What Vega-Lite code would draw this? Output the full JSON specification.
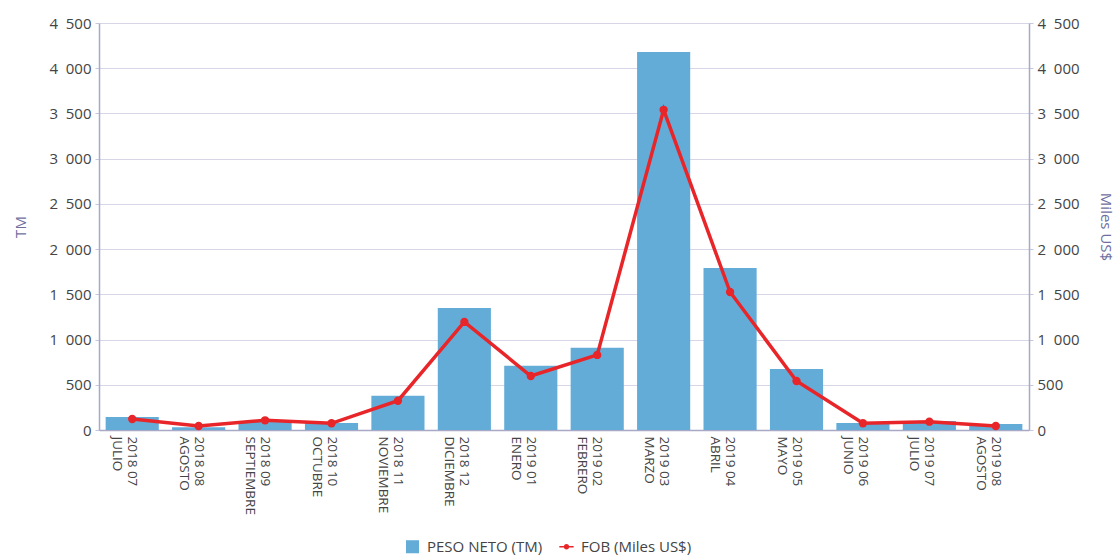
{
  "$schema": "https://vega.github.io/schema/vega-lite/v6.json",
  "width": 930,
  "height": 407,
  "autosize": {"type": "none"},
  "padding": {"left": 99, "top": 23, "right": 89, "bottom": 129},
  "background": "white",
  "config": {
    "font": "Open Sans",
    "view": {"stroke": null},
    "axis": {"labelFont": "Open Sans", "titleFont": "Open Sans"}
  },
  "data": {
    "values": [
      {"mes": "2018 07|JULIO", "serie": "PESO NETO (TM)", "valor": 144},
      {"mes": "2018 08|AGOSTO", "serie": "PESO NETO (TM)", "valor": 30},
      {"mes": "2018 09|SEPTIEMBRE", "serie": "PESO NETO (TM)", "valor": 100},
      {"mes": "2018 10|OCTUBRE", "serie": "PESO NETO (TM)", "valor": 77},
      {"mes": "2018 11|NOVIEMBRE", "serie": "PESO NETO (TM)", "valor": 380},
      {"mes": "2018 12|DICIEMBRE", "serie": "PESO NETO (TM)", "valor": 1350},
      {"mes": "2019 01|ENERO", "serie": "PESO NETO (TM)", "valor": 710},
      {"mes": "2019 02|FEBRERO", "serie": "PESO NETO (TM)", "valor": 910},
      {"mes": "2019 03|MARZO", "serie": "PESO NETO (TM)", "valor": 4180},
      {"mes": "2019 04|ABRIL", "serie": "PESO NETO (TM)", "valor": 1790},
      {"mes": "2019 05|MAYO", "serie": "PESO NETO (TM)", "valor": 675},
      {"mes": "2019 06|JUNIO", "serie": "PESO NETO (TM)", "valor": 77},
      {"mes": "2019 07|JULIO", "serie": "PESO NETO (TM)", "valor": 100},
      {"mes": "2019 08|AGOSTO", "serie": "PESO NETO (TM)", "valor": 66},
      {"mes": "2018 07|JULIO", "serie": "FOB (Miles US$)", "valor": 122},
      {"mes": "2018 08|AGOSTO", "serie": "FOB (Miles US$)", "valor": 44},
      {"mes": "2018 09|SEPTIEMBRE", "serie": "FOB (Miles US$)", "valor": 107},
      {"mes": "2018 10|OCTUBRE", "serie": "FOB (Miles US$)", "valor": 74},
      {"mes": "2018 11|NOVIEMBRE", "serie": "FOB (Miles US$)", "valor": 324},
      {"mes": "2018 12|DICIEMBRE", "serie": "FOB (Miles US$)", "valor": 1195},
      {"mes": "2019 01|ENERO", "serie": "FOB (Miles US$)", "valor": 597},
      {"mes": "2019 02|FEBRERO", "serie": "FOB (Miles US$)", "valor": 830},
      {"mes": "2019 03|MARZO", "serie": "FOB (Miles US$)", "valor": 3540},
      {"mes": "2019 04|ABRIL", "serie": "FOB (Miles US$)", "valor": 1526},
      {"mes": "2019 05|MAYO", "serie": "FOB (Miles US$)", "valor": 542},
      {"mes": "2019 06|JUNIO", "serie": "FOB (Miles US$)", "valor": 74},
      {"mes": "2019 07|JULIO", "serie": "FOB (Miles US$)", "valor": 92},
      {"mes": "2019 08|AGOSTO", "serie": "FOB (Miles US$)", "valor": 44}
    ]
  },
  "encoding": {
    "x": {
      "field": "mes",
      "type": "nominal",
      "sort": null,
      "scale": {"paddingInner": 0.2, "paddingOuter": 0.1},
      "axis": {
        "title": null,
        "labelAngle": 90,
        "labelAlign": "left",
        "labelBaseline": "middle",
        "labelExpr": "split(datum.label, '|')",
        "labelFontSize": 13.5,
        "labelColor": "#444444",
        "labelLineHeight": 15,
        "labelPadding": 6,
        "ticks": false,
        "domainColor": "#a9a9c6",
        "domainWidth": 1.5
      }
    },
    "color": {
      "field": "serie",
      "type": "nominal",
      "scale": {"domain": ["PESO NETO (TM)", "FOB (Miles US$)"], "range": ["#64acd8", "#e8262a"]},
      "legend": {
        "title": null,
        "orient": "none",
        "legendX": 306,
        "legendY": 516,
        "direction": "horizontal",
        "labelFontSize": 15,
        "labelColor": "#444444",
        "symbolSize": 170,
        "columnPadding": 16,
        "labelOffset": 7,
        "encode": {
          "symbols": {
            "update": {
              "shape": {"signal": "datum.value == 'PESO NETO (TM)' ? 'square' : 'M-1.1,-0.13L1.1,-0.13L1.1,0.13L-1.1,0.13Z M0.42,0A0.42,0.42 0 1,1 -0.42,0A0.42,0.42 0 1,1 0.42,0Z'"},
              "strokeWidth": {"value": 0}
            }
          }
        }
      }
    }
  },
  "layer": [
    {
      "transform": [{"filter": "datum.serie == 'PESO NETO (TM)'"}],
      "mark": {"type": "bar"},
      "encoding": {
        "y": {
          "field": "valor",
          "type": "quantitative",
          "scale": {"domain": [0, 4500], "nice": false},
          "axis": {
            "title": "TM",
            "titleColor": "#6f6f9f",
            "titleFontWeight": "normal",
            "titleFontSize": 15,
            "titlePadding": 20,
            "orient": "left",
            "values": [0, 500, 1000, 1500, 2000, 2500, 3000, 3500, 4000, 4500],
            "labelExpr": "replace(format(datum.value, ','), ',', '\u00a0\u00a0')",
            "labelFontSize": 15,
            "labelColor": "#444444",
            "labelPadding": 4,
            "tickSize": 4,
            "tickColor": "#c8c8dc",
            "gridColor": "#d6d6e6",
            "domainColor": "#a9a9c6",
            "domainWidth": 1.5
          }
        }
      }
    },
    {
      "transform": [{"filter": "datum.serie == 'FOB (Miles US$)'"}],
      "mark": {"type": "line", "strokeWidth": 3.5, "point": {"size": 70, "filled": true}},
      "encoding": {
        "y": {
          "field": "valor",
          "type": "quantitative",
          "scale": {"domain": [0, 4500], "nice": false},
          "axis": {
            "title": "Miles US$",
            "titleColor": "#6f6f9f",
            "titleFontWeight": "normal",
            "titleFontSize": 15,
            "titlePadding": 18,
            "orient": "right",
            "grid": false,
            "values": [0, 500, 1000, 1500, 2000, 2500, 3000, 3500, 4000, 4500],
            "labelExpr": "replace(format(datum.value, ','), ',', '\u00a0\u00a0')",
            "labelFontSize": 15,
            "labelColor": "#444444",
            "labelPadding": 4,
            "tickSize": 4,
            "tickColor": "#c8c8dc",
            "domainColor": "#a9a9c6",
            "domainWidth": 1.5
          }
        }
      }
    }
  ],
  "resolve": {"scale": {"y": "independent"}}
}
